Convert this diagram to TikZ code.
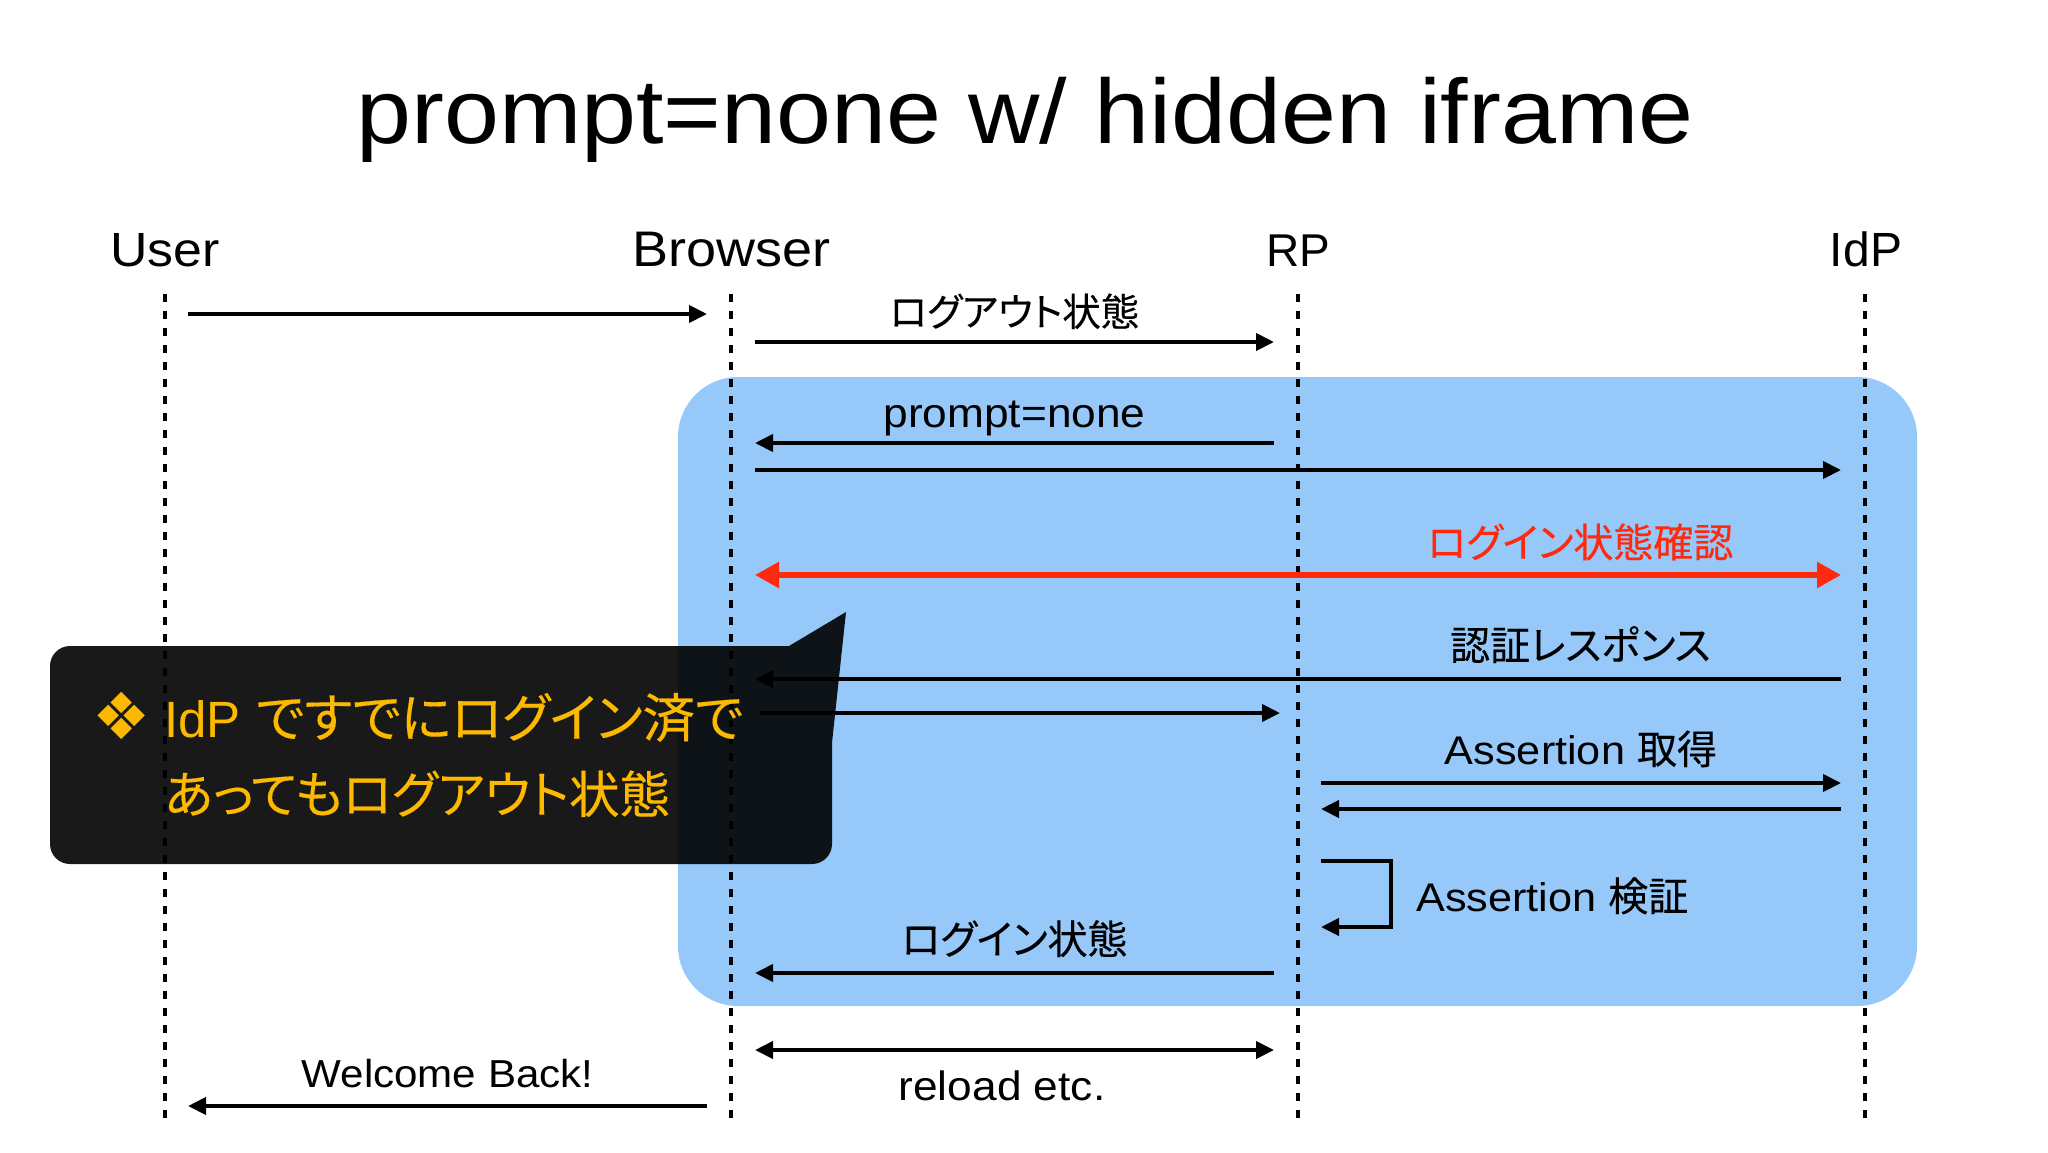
\documentclass[tikz,border=0pt]{standalone}
\usepackage{fontspec}
\usepackage{xcolor}
\usetikzlibrary{arrows.meta,shapes}
\setmainfont[FakeStretch=1.08]{Liberation Sans}
\newfontfamily\plainfont{Liberation Sans}
\newfontfamily\jp[RawFeature=+palt,FakeBold=0.25]{Noto Sans CJK JP}
\newfontfamily\symbolfont{DejaVu Sans}
\definecolor{iframeblue}{RGB}{150,200,250}
\definecolor{alertred}{RGB}{255,42,14}
\definecolor{noteyellow}{RGB}{253,185,0}

\begin{document}
\begin{tikzpicture}[x=1pt, y=-1pt, node distance=566.5pt, auto]

% Styles
\tikzstyle{actor} = [font=\fontsize{50}{56}\selectfont, inner sep=0pt, text height=36pt, text depth=0pt]
\tikzstyle{lifeline} = [line width=4.5pt, dash pattern=on 8pt off 9pt]
\tikzstyle{msg} = [line width=4pt, -{Triangle[length=18pt,width=17pt]}]
\tikzstyle{dualmsg} = [line width=4pt, {Triangle[length=18pt,width=17pt]}-{Triangle[length=18pt,width=17pt]}]
\tikzstyle{redmsg} = [line width=5.5pt, draw=alertred, {Triangle[length=24pt,width=25pt]}-{Triangle[length=24pt,width=25pt]}]
\tikzstyle{msglabel} = [font=\fontsize{40}{44}\selectfont, inner sep=0pt, text height=30pt, text depth=6pt]

\useasboundingbox (0,0) rectangle (2048,1152);
\fill[white] (0,0) rectangle (2048,1152);

% Hidden iframe area
\node (iframe) [rectangle, rounded corners=60pt, minimum width=1239pt, minimum height=629pt, fill=iframeblue] at (1297.5,691.5) {};

% Title and actors
\node (title) [font=\fontsize{91.5}{100}\selectfont, inner sep=0pt] at (1025,120) {prompt=none w/ hidden iframe};
\node (user) [actor, font=\fontsize{48}{56}\selectfont] at (165,248) {User};
\node (browser) [actor, right of=user] {Browser};
\node (rp) [actor, right of=browser, font=\plainfont\fontsize{46}{56}\selectfont] {RP};
\node (idp) [actor, right of=rp, xshift=1.5pt, font=\plainfont\fontsize{48}{56}\selectfont] {IdP};

% Lifelines
\coordinate (usertop) at (165,294);
\coordinate (userend) at (165,1121);
\coordinate (browsertop) at (731,294);
\coordinate (browserend) at (731,1121);
\coordinate (rptop) at (1298,294);
\coordinate (rpend) at (1298,1121);
\coordinate (idptop) at (1865,294);
\coordinate (idpend) at (1865,1121);
\draw [lifeline] (usertop) -- (userend);
\draw [lifeline] (browsertop) -- (browserend);
\draw [lifeline] (rptop) -- (rpend);
\draw [lifeline] (idptop) -- (idpend);

% Message ends
\coordinate (u1) at (188,314);
\coordinate (b1) at (707,314);
\coordinate (b2) at (755,342);
\coordinate (r2) at (1274,342);
\coordinate (b3) at (755,443);
\coordinate (r3) at (1274,443);
\coordinate (b4) at (755,470);
\coordinate (i4) at (1841,470);
\coordinate (b5) at (755,575);
\coordinate (i5) at (1841,575);
\coordinate (b6) at (755,679);
\coordinate (i6) at (1841,679);
\coordinate (b7) at (760,713);
\coordinate (r7) at (1280,713);
\coordinate (r8) at (1321,783);
\coordinate (i8) at (1841,783);
\coordinate (r9) at (1321,809);
\coordinate (i9) at (1841,809);
\coordinate (loopa) at (1321,861);
\coordinate (loopb) at (1391,861);
\coordinate (loopc) at (1391,927);
\coordinate (loopd) at (1321,927);
\coordinate (b10) at (755,973);
\coordinate (r10) at (1274,973);
\coordinate (b11) at (755,1050);
\coordinate (r11) at (1274,1050);
\coordinate (u12) at (188,1106);
\coordinate (b12) at (707,1106);

% Messages
\draw [msg] (u1) -- (b1);
\draw [msg] (b2) -- node[msglabel, anchor=south, yshift=8pt] (logout) {\jp\fontsize{38.5}{44}\selectfont ログアウト状態} (r2);
\draw [msg] (r3) -- node[msglabel, anchor=south, yshift=8pt] (prompt) {\fontsize{41}{44}\selectfont prompt=none} (b3);
\draw [msg] (b4) -- (i4);
\draw [redmsg] (b5) -- node[msglabel, pos=0.76, anchor=south, yshift=9pt, text=alertred] (check) {\jp ログイン状態確認} (i5);
\draw [msg] (i6) -- node[msglabel, pos=0.24, anchor=south, yshift=11pt] (authres) {\jp 認証レスポンス} (b6);
\draw [msg] (b7) -- (r7);
\draw [msg] (r8) -- node[msglabel, anchor=south, yshift=11pt] (fetch) {Assertion {\jp 取得}} (i8);
\draw [msg] (i9) -- (r9);
\draw [msg] (loopa) -- (loopb) -- (loopc) -- (loopd);
\node (verify) [msglabel, anchor=west] at (1416,899) {Assertion {\jp 検証}};
\draw [msg] (r10) -- node[msglabel, anchor=south, yshift=11pt] (login) {\jp ログイン状態} (b10);
\draw [dualmsg] (b11) -- (r11);
\node (reload) [msglabel] at (1002,1088) {\fontsize{41}{44}\selectfont reload etc.};
\draw [msg] (b12) -- node[msglabel, anchor=south, yshift=11pt] (welcome) {\fontsize{39}{44}\selectfont Welcome Back!} (u12);

% Callout
\fill [black, opacity=0.9] [rounded corners=20pt] (50,755) -- (50,646) [sharp corners] -- (789,646) -- (846,612) -- (832,743) [rounded corners=20pt] -- (832,864) -- (50,864) -- cycle;
\node (bullet) [text=noteyellow, inner sep=0pt, font=\symbolfont\fontsize{65}{70}\selectfont] at (122,716) {❖};
\node (note) [anchor=west, align=left, text=noteyellow, inner sep=0pt, font=\fontsize{51}{76}\selectfont] at (164,755) {{\plainfont IdP} {\jp\fontsize{52.4}{76}\selectfont ですでにログイン済で}\\{\jp\fontsize{50.5}{76}\selectfont あってもログアウト状態}};

\end{tikzpicture}
\end{document}
